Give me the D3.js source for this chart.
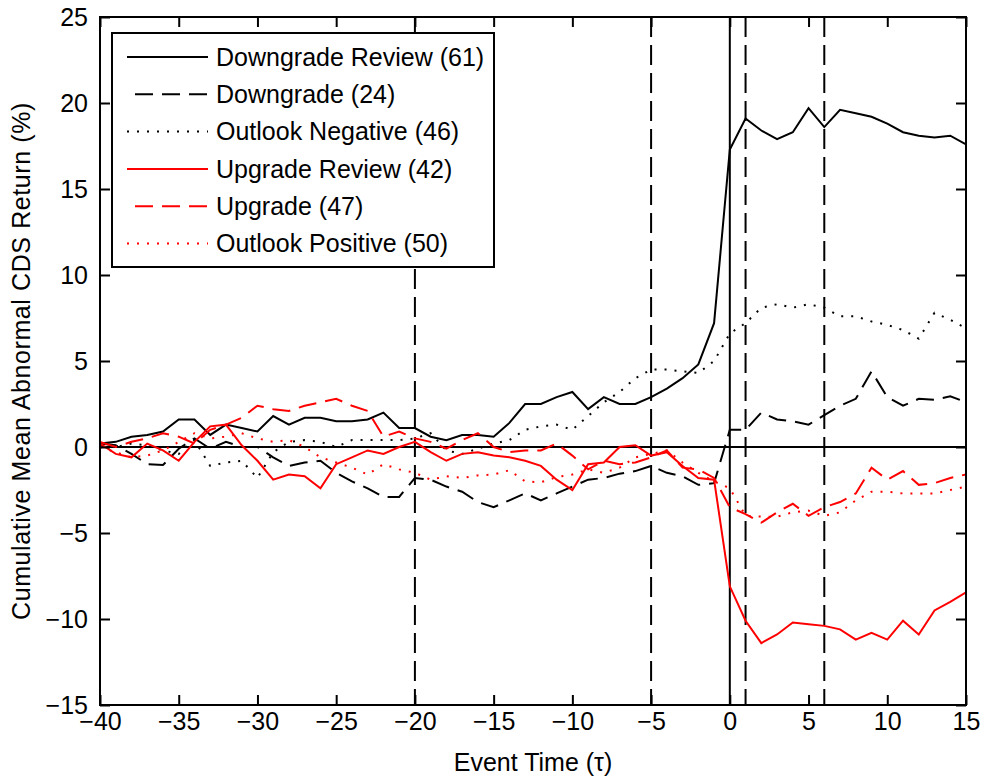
<!DOCTYPE html>
<html>
<head>
<meta charset="utf-8">
<script src="https://cdn.jsdelivr.net/npm/d3@7/dist/d3.min.js"></script>
<style>
  body { margin: 0; background: #fff; }
  text { font-family: "Liberation Sans", Arial, sans-serif; font-size: 25px; fill: #000; }
</style>
</head>
<body>
<svg id="canvas" width="984" height="781"></svg>
<script>
// event time (tau) for every series
const eventTime = [-40, -39, -38, -37, -36, -35, -34, -33, -32, -31, -30, -29, -28, -27,
  -26, -25, -24, -23, -22, -21, -20, -19, -18, -17, -16, -15, -14, -13, -12, -11, -10,
  -9, -8, -7, -6, -5, -4, -3, -2, -1, 0, 1, 2, 3, 4, 5, 6, 7, 8, 9, 10, 11, 12, 13, 14, 15];

const downgradeReview = [0.2, 0.3, 0.6, 0.7, 0.9, 1.6, 1.6, 0.7, 1.3, 1.1, 0.9, 1.8, 1.3, 1.7,
  1.7, 1.5, 1.5, 1.6, 2.0, 1.1, 1.1, 0.6, 0.4, 0.7, 0.7, 0.6, 1.4, 2.5, 2.5, 2.9, 3.2,
  2.2, 2.9, 2.5, 2.5, 2.9, 3.4, 4.0, 4.8, 7.2, 17.3, 19.1, 18.4, 17.9, 18.3, 19.7, 18.6,
  19.6, 19.4, 19.2, 18.8, 18.3, 18.1, 18.0, 18.1, 17.6];
const downgrade = [0.2, 0.1, -0.4, -1.0, -1.05, -0.1, 0.5, -0.1, 0.3, 0.0, 0.0, -0.6, -1.1, -0.9,
  -0.8, -1.5, -2.0, -2.4, -2.9, -2.9, -1.8, -1.9, -2.3, -2.6, -3.2, -3.5, -3.1, -2.7, -3.1,
  -2.7, -2.3, -1.9, -1.8, -1.55, -1.4, -1.1, -1.5, -1.7, -2.2, -2.1, 1.0, 1.0, 2.0, 1.6, 1.5,
  1.3, 1.85, 2.4, 2.8, 4.4, 2.9, 2.4, 2.8, 2.75, 2.95, 2.6];
const outlookNegative = [0.1, 0.0, 0.2, 0.1, -0.2, -0.4, 0.4, -1.1, -0.9, -0.8, -1.8, -0.3, 0.3,
  0.4, 0.3, 0.0, 0.4, 0.4, 0.4, 0.4, 0.5, 0.8, -0.2, -0.4, -0.1, 0.2, 0.4, 1.0, 1.2, 1.3, 1.0,
  1.8, 2.6, 3.2, 4.0, 4.5, 4.5, 4.4, 4.3, 5.0, 6.6, 7.2, 8.1, 8.3, 8.1, 8.3, 8.1, 7.6, 7.6,
  7.3, 7.1, 6.8, 6.3, 7.8, 7.4, 6.9];
const upgradeReview = [0.2, -0.4, -0.6, 0.2, -0.2, -0.8, 0.3, 1.2, 1.3, 0.1, -0.8, -1.9, -1.6,
  -1.7, -2.4, -1.0, -0.6, -0.2, -0.4, 0.0, 0.3, -0.3, -0.8, -0.4, -0.3, -0.5, -0.6, -0.8,
  -1.1, -1.9, -2.5, -1.0, -0.9, 0.0, 0.1, -0.5, -0.3, -1.1, -1.8, -1.9, -8.1, -10.1, -11.4,
  -10.9, -10.2, -10.3, -10.4, -10.6, -11.2, -10.8, -11.2, -10.1, -10.9, -9.5, -9.0, -8.45];
const upgrade = [0.3, 0.0, 0.3, 0.5, 0.8, 0.6, 0.2, 1.0, 1.3, 1.7, 2.4, 2.2, 2.1, 2.4, 2.6, 2.8,
  2.4, 2.1, 0.6, 0.9, 0.5, 0.3, -0.1, 0.4, 0.8, 0.0, -0.3, -0.2, -0.2, 0.2, -0.5, -1.3, -0.8,
  -1.0, -0.9, -0.6, -0.2, -1.2, -1.3, -1.8, -3.5, -3.9, -4.4, -3.8, -3.3, -4.0, -3.5, -3.2,
  -2.7, -1.2, -1.9, -1.4, -2.2, -2.1, -1.8, -1.6];
const outlookPositive = [0.0, -0.3, -0.6, -0.5, -0.2, 0.3, 0.8, 0.5, 0.6, 0.8, 0.5, 0.3, 0.4,
  0.0, -0.6, -0.9, -1.2, -1.6, -1.0, -1.3, -1.5, -1.9, -1.7, -1.8, -1.65, -1.6, -1.35, -2.0,
  -2.05, -1.75, -1.6, -1.3, -1.5, -1.2, -0.6, -0.4, -0.2, -0.9, -1.5, -2.0, -2.4, -4.0, -4.05,
  -4.05, -3.8, -3.7, -4.0, -3.8, -3.1, -2.6, -2.6, -2.7, -2.7, -2.7, -2.5, -2.3];

const seriesNames = ["Downgrade Review (61)", "Downgrade (24)", "Outlook Negative (46)",
  "Upgrade Review (42)", "Upgrade (47)", "Outlook Positive (50)"];
const seriesColors = ["#000000", "#000000", "#000000", "#ff0000", "#ff0000", "#ff0000"];
const seriesDash = ["none", "18,9", "2,8", "none", "18,9", "2,8"];
const seriesValues = [downgradeReview, downgrade, outlookNegative, upgradeReview, upgrade, outlookPositive];

const xTicks = [-40, -35, -30, -25, -20, -15, -10, -5, 0, 5, 10, 15];
const yTicks = [-15, -10, -5, 0, 5, 10, 15, 20, 25];
const dashedEvents = [-20, -5, 1, 6];

let canvas = d3.select("#canvas");
const plotLeft = 100, plotRight = 966, plotTop = 17, plotBottom = 705;

let x = d3.scaleLinear().domain([-40, 15]).range([plotLeft, plotRight]);
let y = d3.scaleLinear().domain([-15, 25]).range([plotBottom, plotTop]);

canvas.append("rect").attr("width", 984).attr("height", 781).attr("fill", "#fff");

canvas.append("clipPath").attr("id", "plotClip")
  .append("rect").attr("x", plotLeft).attr("y", plotTop)
  .attr("width", plotRight - plotLeft).attr("height", plotBottom - plotTop);

let g = canvas.append("g").attr("clip-path", "url(#plotClip)");

// reference lines at zero and at the event windows
g.append("line")
  .attr("x1", plotLeft).attr("x2", plotRight).attr("y1", y(0)).attr("y2", y(0))
  .attr("stroke", "#000").attr("stroke-width", 2);
g.append("line")
  .attr("x1", x(0)).attr("x2", x(0)).attr("y1", plotTop).attr("y2", plotBottom)
  .attr("stroke", "#000").attr("stroke-width", 2);
g.selectAll(".eventLine")
  .data(dashedEvents)
  .enter()
  .append("line")
  .attr("class", "eventLine")
  .attr("x1", (d) => x(d)).attr("x2", (d) => x(d))
  .attr("y1", plotTop).attr("y2", plotBottom)
  .attr("stroke", "#000").attr("stroke-width", 2)
  .attr("stroke-dasharray", "20,8");

let line = d3.line()
  .x((d, i) => x(eventTime[i]))
  .y((d) => y(d));

g.selectAll(".series")
  .data(seriesValues)
  .enter()
  .append("path")
  .attr("class", "series")
  .attr("d", line)
  .attr("fill", "none")
  .attr("stroke", (d, i) => seriesColors[i])
  .attr("stroke-width", 2)
  .attr("stroke-dasharray", (d, i) => seriesDash[i]);

// MATLAB style box with inward ticks on all sides
let xAxis = d3.axisBottom(x).tickValues(xTicks).tickSize(-10).tickSizeOuter(0).tickPadding(7);
let yAxis = d3.axisLeft(y).tickValues(yTicks).tickSize(-10).tickSizeOuter(0).tickPadding(12);

canvas.append("g").attr("transform", `translate(0,${plotBottom})`).call(xAxis);
canvas.append("g").attr("transform", `translate(${plotLeft},0)`).call(yAxis);
canvas.append("g").attr("transform", `translate(0,${plotTop})`)
  .call(d3.axisTop(x).tickValues(xTicks).tickSize(-10).tickSizeOuter(0).tickFormat(""));
canvas.append("g").attr("transform", `translate(${plotRight},0)`)
  .call(d3.axisRight(y).tickValues(yTicks).tickSize(-10).tickSizeOuter(0).tickFormat(""));

canvas.selectAll(".tick line").attr("stroke", "#000").attr("stroke-width", 2);
canvas.selectAll(".domain").remove();
canvas.selectAll(".tick text")
  .attr("fill", "#000");
canvas.selectAll("g").attr("font-family", null).attr("font-size", null);

canvas.append("rect")
  .attr("x", plotLeft).attr("y", plotTop)
  .attr("width", plotRight - plotLeft).attr("height", plotBottom - plotTop)
  .attr("fill", "none").attr("stroke", "#000").attr("stroke-width", 2);

canvas.append("text")
  .attr("x", (plotLeft + plotRight) / 2).attr("y", 771)
  .attr("text-anchor", "middle")
  .text("Event Time (\u03c4)");

canvas.append("text")
  .attr("transform", `translate(30,${(plotTop + plotBottom) / 2}) rotate(-90)`)
  .attr("text-anchor", "middle")
  .attr("letter-spacing", "0.6px")
  .text("Cumulative Mean Abnormal CDS Return (%)");

// legend
let legend = canvas.append("g");
legend.append("rect")
  .attr("x", 112).attr("y", 33).attr("width", 382).attr("height", 234)
  .attr("fill", "#fff").attr("stroke", "#000").attr("stroke-width", 2);

let rows = legend.selectAll(".entry")
  .data(seriesNames)
  .enter()
  .append("g")
  .attr("class", "entry")
  .attr("transform", (d, i) => `translate(0,${57 + i * 37.3})`);

rows.append("line")
  .attr("x1", (d, i) => (seriesDash[i] == "18,9" ? 135 : 127)).attr("x2", 208)
  .attr("stroke", (d, i) => seriesColors[i])
  .attr("stroke-width", 2)
  .attr("stroke-dasharray", (d, i) => seriesDash[i]);

rows.append("text")
  .attr("x", 216).attr("dy", "0.35em")
  .text((d) => d);
</script>
</body>
</html>
